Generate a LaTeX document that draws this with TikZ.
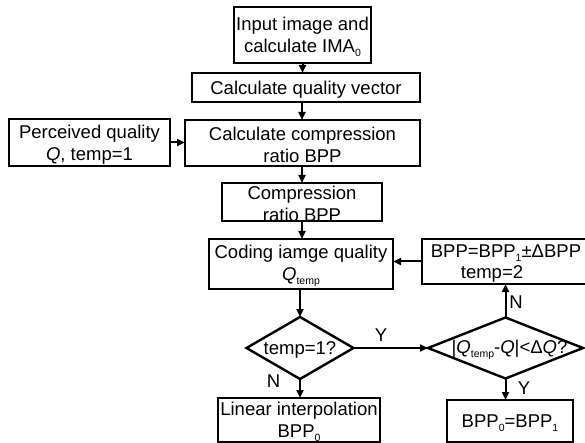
\documentclass[tikz,border=0pt]{standalone}
\usepackage{fontspec}
\setmainfont{Liberation Sans}
\usetikzlibrary{shapes.geometric,arrows.meta}
\newcommand\sbs[1]{\raisebox{-4.5bp}{\fontsize{10.5bp}{10.5bp}\selectfont #1}}
\begin{document}
\begin{tikzpicture}[x=1bp,y=-1bp,
  box/.style={draw, line width=2.4bp, inner sep=0pt, outer sep=0pt, rectangle},
  dia/.style={draw, line width=2.4bp, diamond, inner sep=0pt, outer sep=0pt},
  txt/.style={inner sep=0pt, align=center, font=\fontsize{18.5bp}{21.5bp}\selectfont, yshift=-2bp},
  lbl/.style={inner sep=0pt, font=\fontsize{18.5bp}{21.5bp}\selectfont},
  arr/.style={line width=2bp, -{Triangle[length=8bp,width=7bp]}},
]
\useasboundingbox (0,0) rectangle (585,443);
\clip (0,0) rectangle (585,443);
\fill[white] (0,0) rectangle (585,443);

\node[box, minimum width=137bp, minimum height=56bp] (b1) at (302.5,35) {};
\node[txt] (t1) at (b1) {Input image and\\calculate IMA\sbs{0}};

\node[box, minimum width=228bp, minimum height=29bp] (b2) at (306,87.5) {};
\node[txt] (t2) at (b2) {Calculate quality vector};

\node[box, minimum width=235bp, minimum height=46bp] (b3) at (302.5,143) {};
\node[txt] (t3) at (b3) {Calculate compression\\ratio BPP};

\node[box, minimum width=161bp, minimum height=47bp] (bl) at (89.5,142.5) {};
\node[txt] (tl) at (bl) {Perceived quality\\\textit{Q}, temp=1};

\node[box, minimum width=160bp, minimum height=38bp] (b4) at (302,202) {};
\node[txt] (t4) at (b4) {Compression\\ratio BPP};

\node[box, minimum width=184bp, minimum height=50bp] (b5) at (301,264) {};
\node[txt] (t5) at (b5) {Coding iamge quality\\\textit{Q}\sbs{temp}};

\node[box, minimum width=168bp, minimum height=45bp] (b6) at (506,261.5) {};
\node[txt] (t6) at (b6) {BPP=BPP\sbs{1}±ΔBPP\\temp=2\hspace*{28bp}};

\node[dia, minimum width=107bp, minimum height=62bp] (d1) at (300,348) {};
\node[txt] (td1) at (d1) {temp=1?};

\node[dia, minimum width=155bp, minimum height=61bp] (d2) at (505.5,348) {};
\node[txt] (td2) at ([xshift=4bp]d2.center) {|\textit{Q}\sbs{temp}-\textit{Q}|<Δ\textit{Q}?};

\node[box, minimum width=162bp, minimum height=44bp] (b7) at (299,420) {};
\node[txt] (t7) at (b7) {Linear interpolation\\BPP\sbs{0}};

\node[box, minimum width=126bp, minimum height=42bp] (b8) at (510,421) {};
\node[txt] (t8) at (b8) {BPP\sbs{0}=BPP\sbs{1}};

\coordinate (ax) at (302,0);
\draw[arr] (b1.south) -- (b1.south |- b2.north);
\draw[arr] (b2.south -| ax) -- (b3.north -| ax);
\draw[arr] (bl.east) -- (bl.east -| b3.west);
\draw[arr] (b3.south -| ax) -- (b4.north -| ax);
\draw[arr] (b4.south -| ax) -- (b5.north -| ax);
\draw[arr] (b5.south -| d1.north) -- (d1.north);
\draw[arr] (d1.south) -- (d1.south |- b7.north);
\draw[arr] (d1.east) -- (d1.east -| d2.west);
\draw[arr] (d2.north) -- (d2.north |- b6.south);
\draw[arr] (d2.south) -- (d2.south |- b8.north);
\draw[arr] (b6.west) -- (b6.west -| b5.east);

\node[lbl] (y1) at (381,335) {Y};
\node[lbl] (n1) at (516,302) {N};
\node[lbl] (y2) at (524,388) {Y};
\node[lbl] (n2) at (273.5,381) {N};
\end{tikzpicture}
\end{document}
